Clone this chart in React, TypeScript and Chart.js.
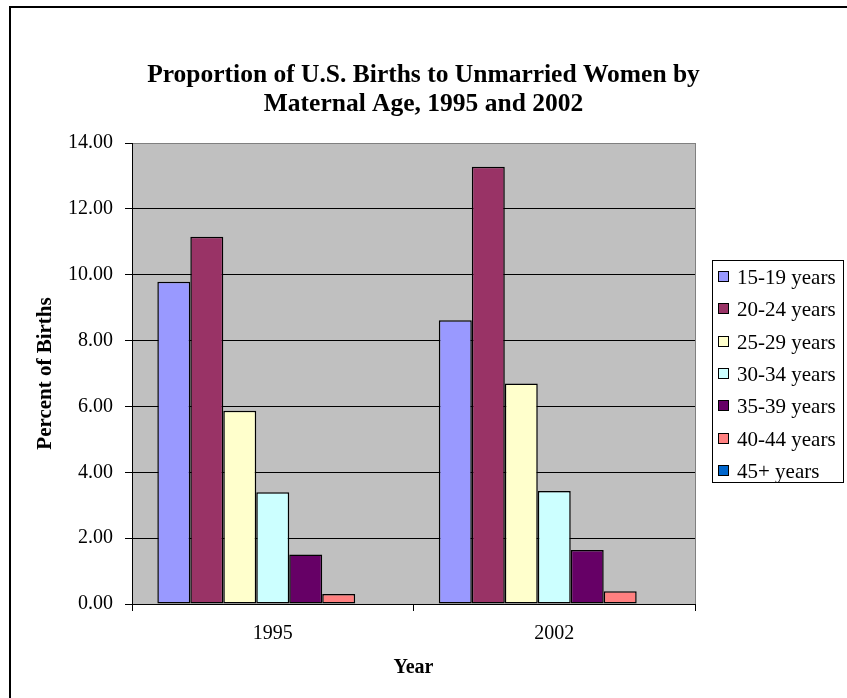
import { useEffect, useRef } from "react";
import { Chart, registerables } from "chart.js";

Chart.register(...registerables);

// Survey years on the category axis
const years = ["1995", "2002"];

// Maternal age groups (one bar series each)
const ageGroups = [
  "15-19 years",
  "20-24 years",
  "25-29 years",
  "30-34 years",
  "35-39 years",
  "40-44 years",
  "45+ years",
];

// Percent of births to unmarried women, by age group, for 1995 and 2002
const share15to19 = [9.79, 8.62];
const share20to24 = [11.15, 13.28];
const share25to29 = [5.87, 6.7];
const share30to34 = [3.39, 3.43];
const share35to39 = [1.5, 1.64];
const share40to44 = [0.3, 0.39];
const share45plus = [0, 0];

const seriesValues = [
  share15to19,
  share20to24,
  share25to29,
  share30to34,
  share35to39,
  share40to44,
  share45plus,
];

const seriesColors = [
  "#9999FF",
  "#993366",
  "#FFFFCC",
  "#CCFFFF",
  "#660066",
  "#FF8080",
  "#0066CC",
];

const titleLines = [
  "Proportion of U.S. Births to Unmarried Women by",
  "Maternal Age, 1995 and 2002",
];
const yAxisTitle = "Percent of Births";
const xAxisTitle = "Year";

const SERIF = "'Liberation Serif', 'Times New Roman', serif";

// White page, chart frame, grey plot area and the two-line title
const framePlugin = {
  id: "frame",
  beforeDraw(chart: Chart) {
    const { ctx, width, height, chartArea } = chart;
    ctx.save();
    ctx.fillStyle = "#FFFFFF";
    ctx.fillRect(0, 0, width, height);

    ctx.strokeStyle = "#000000";
    ctx.lineWidth = 2;
    ctx.beginPath();
    ctx.moveTo(10, height);
    ctx.lineTo(10, 7);
    ctx.lineTo(width, 7);
    ctx.stroke();

    ctx.fillStyle = "#C0C0C0";
    ctx.fillRect(
      chartArea.left,
      chartArea.top,
      chartArea.right - chartArea.left,
      chartArea.bottom - chartArea.top
    );

    ctx.fillStyle = "#000000";
    ctx.font = `bold 25.5px ${SERIF}`;
    ctx.textAlign = "center";
    ctx.textBaseline = "middle";
    titleLines.forEach((line, i) => {
      ctx.fillText(line, width / 2, 75 + i * 29);
    });
    ctx.restore();
  },
  afterDraw(chart: Chart) {
    const { ctx, chartArea } = chart;
    ctx.save();
    // plot-area edge on the right
    ctx.strokeStyle = "#808080";
    ctx.lineWidth = 1;
    ctx.beginPath();
    ctx.moveTo(chartArea.right + 0.5, chartArea.top);
    ctx.lineTo(chartArea.right + 0.5, chartArea.bottom);
    ctx.stroke();
    ctx.restore();
  },
};

// Boxed legend at the right, one row per age group
const boxedLegendPlugin = {
  id: "boxedLegend",
  afterDraw(chart: Chart) {
    const { ctx } = chart;
    const left = 712.5;
    const top = 260.5;
    const boxW = 131;
    const boxH = 222;
    const rowStart = 277;
    const rowStep = 32.3;
    ctx.save();
    ctx.fillStyle = "#FFFFFF";
    ctx.fillRect(left, top, boxW, boxH);
    ctx.strokeStyle = "#000000";
    ctx.lineWidth = 1;
    ctx.strokeRect(left, top, boxW, boxH);

    ctx.font = `21px ${SERIF}`;
    ctx.textAlign = "left";
    ctx.textBaseline = "middle";
    chart.data.datasets.forEach((ds: any, i: number) => {
      const y = Math.round(rowStart + i * rowStep);
      ctx.fillStyle = ds.backgroundColor;
      ctx.fillRect(718.5, y - 5.5, 10, 10);
      ctx.strokeStyle = "#000000";
      ctx.strokeRect(718.5, y - 5.5, 10, 10);
      ctx.fillStyle = "#000000";
      ctx.fillText(ds.label, 737, y + 1);
    });
    ctx.restore();
  },
};

export default function App() {
  const canvasRef = useRef<HTMLCanvasElement | null>(null);

  useEffect(() => {
    document.body.style.margin = "0";
    const canvas = canvasRef.current;
    if (!canvas) return;

    const chart = new Chart(canvas, {
      type: "bar",
      data: {
        labels: years,
        datasets: ageGroups.map((label, i) => ({
          label,
          data: seriesValues[i],
          backgroundColor: seriesColors[i],
          borderColor: "#000000",
          borderWidth: 1.5,
          borderSkipped: false,
          categoryPercentage: 0.82,
          barPercentage: 1,
        })),
      },
      options: {
        responsive: false,
        animation: false,
        devicePixelRatio: 1,
        layout: { padding: { top: 143, right: 152, left: 0, bottom: 0 } },
        plugins: {
          legend: { display: false },
          title: { display: false },
          tooltip: { enabled: false },
        },
        scales: {
          x: {
            offset: true,
            grid: {
              offset: true,
              drawOnChartArea: false,
              drawTicks: true,
              tickLength: 7,
              tickColor: "#000000",
              color: "#000000",
            },
            border: { color: "#000000", width: 1 },
            ticks: {
              color: "#000000",
              padding: 11,
              font: { family: SERIF, size: 20 },
            },
            title: {
              display: true,
              text: xAxisTitle,
              color: "#000000",
              font: { family: SERIF, size: 20, weight: "bold" },
              padding: { top: 0, bottom: 18 },
            },
            afterFit(scale: any) {
              scale.height = 94;
            },
          },
          y: {
            min: 0,
            max: 14,
            ticks: {
              stepSize: 2,
              color: "#000000",
              padding: 12,
              font: { family: SERIF, size: 20 },
              callback: (v: any) => Number(v).toFixed(2),
            },
            grid: {
              color: (c: any) => (c.tick && c.tick.value === 14 ? "#808080" : "#000000"),
              tickColor: "#000000",
              tickLength: 7,
              lineWidth: 1,
            },
            border: { color: "#000000", width: 1 },
            title: {
              display: true,
              text: yAxisTitle,
              color: "#000000",
              font: { family: SERIF, size: 21, weight: "bold" },
              padding: { top: 33, bottom: 0 },
            },
            afterFit(scale: any) {
              scale.width = 132;
            },
          },
        },
      },
      plugins: [framePlugin, boxedLegendPlugin],
    });

    return () => chart.destroy();
  }, []);

  return (
    <div style={{ width: 847, height: 698 }}>
      <canvas ref={canvasRef} width={847} height={698} style={{ display: "block" }} />
    </div>
  );
}
